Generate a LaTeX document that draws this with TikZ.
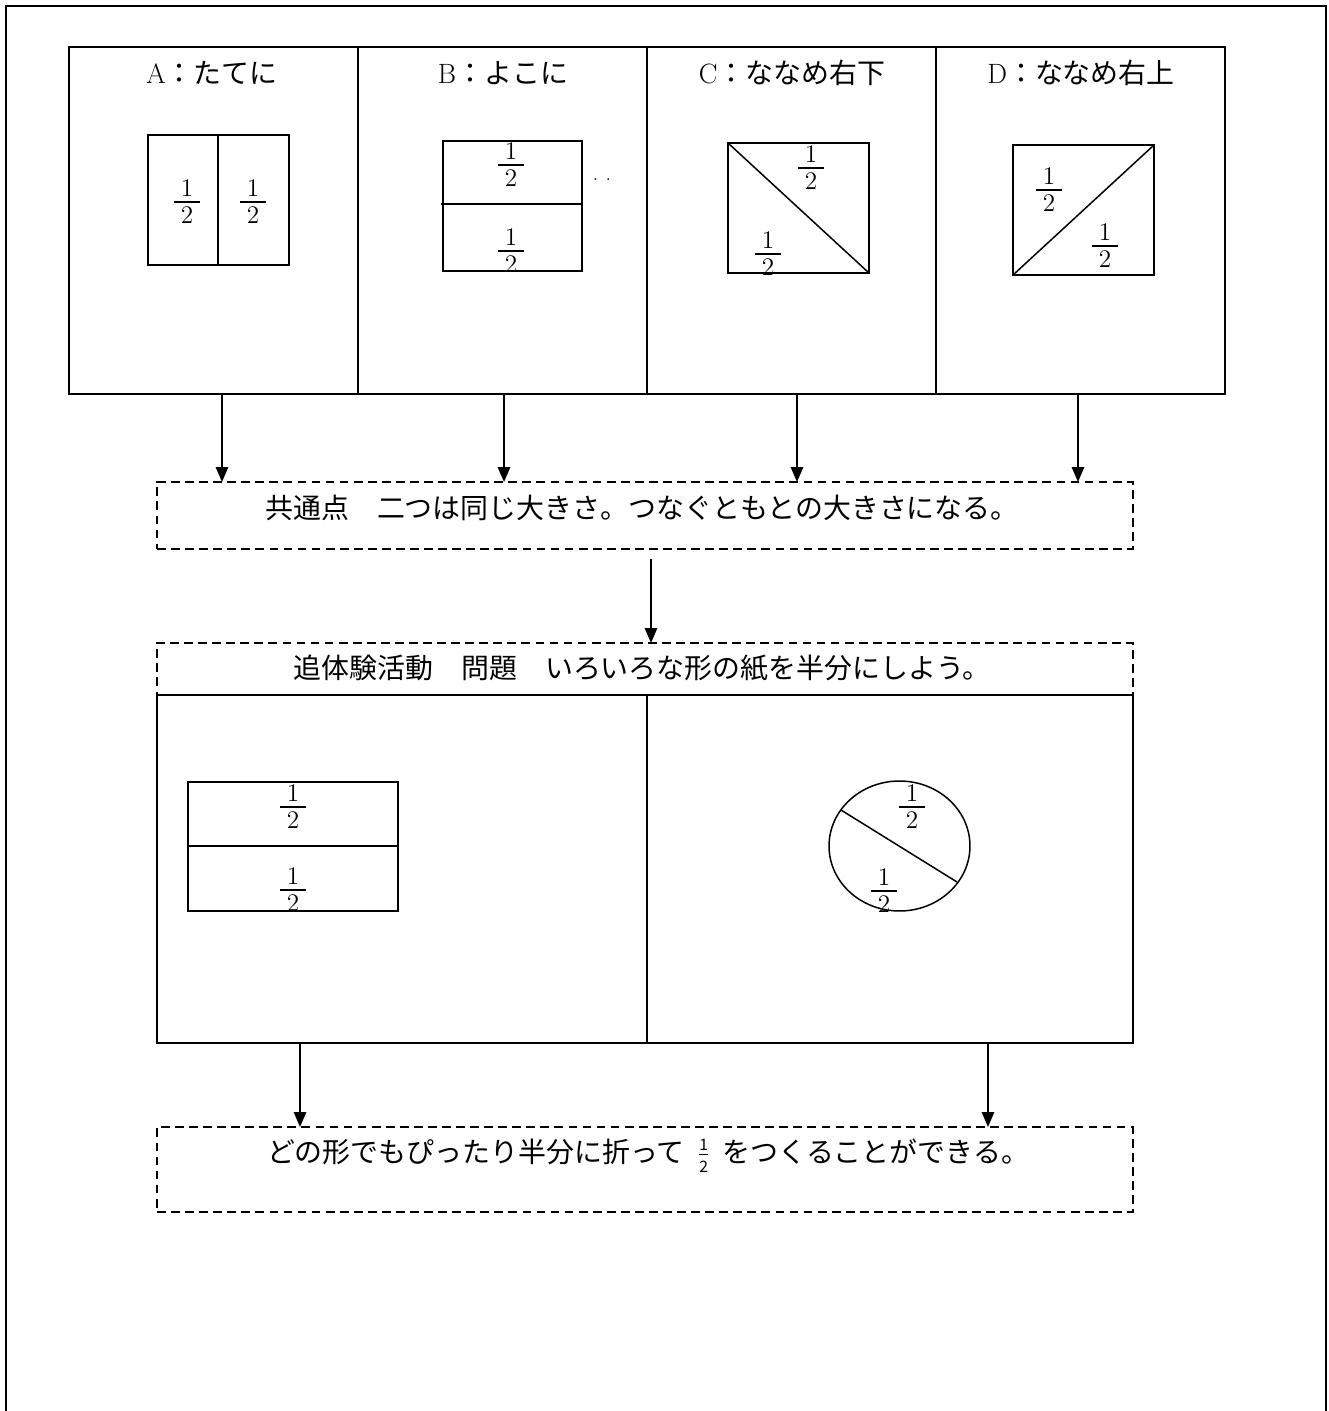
\documentclass[tikz,border=0pt]{standalone}
\usepackage{amsmath}
\usepackage{fontspec}
\newfontfamily\cjk{Noto Sans CJK JP}
\usetikzlibrary{arrows.meta}
\newcommand{\hfr}{{\fontsize{19.5}{23}\selectfont$\genfrac{}{}{0.9pt}{1}{\;1\;}{\;2\;}$}}
\newcommand{\sfr}{$\genfrac{}{}{0.7pt}{1}{\hbox{\cjk\fontsize{9}{10}\selectfont 1}}{\hbox{\cjk\fontsize{9}{10}\selectfont 2}}$}
\begin{document}
\begin{tikzpicture}[x=0.02cm,y=-0.02cm,
  panel/.style={draw,line width=1.1pt,inner sep=0,outer sep=0,minimum width=5.78cm,minimum height=6.94cm},
  dbox/.style={draw,dash pattern=on 5pt off 3pt,line width=0.9pt,inner sep=0,outer sep=0,minimum width=19.52cm},
  sbox/.style={draw,line width=1.1pt,inner sep=0,outer sep=0,minimum height=6.96cm},
  shp/.style={line width=0.85pt},
  arr/.style={-{Triangle[length=8.5pt,width=7pt]},line width=1.1pt},
  jp/.style={font=\cjk\fontsize{15.9}{19}\selectfont,inner sep=0,anchor=base},
  ttl/.style={font=\fontsize{15.9}{19}\selectfont,inner sep=0},
  frc/.style={inner sep=0}]
\useasboundingbox (0,0) rectangle (1329,1411);
% outer frame (open at the bottom)
\draw[line width=1pt] (6,1411) -- (6,6) -- (1326,6) -- (1326,1411);

% top panels
\node[panel] (pA) at (213.5,220.5) {};
\node[panel] (pB) at (502.5,220.5) {};
\node[panel] (pC) at (791.5,220.5) {};
\node[panel] (pD) at (1080.5,220.5) {};
\node[ttl] (tA) at (212,73) {A{\cjk ：たてに}};
\node[ttl] (tB) at (503,73) {B{\cjk ：よこに}};
\node[ttl] (tC) at (792,73) {C{\cjk ：ななめ右下}};
\node[ttl] (tD) at (1081,73) {D{\cjk ：ななめ右上}};

% A shape
\draw[shp] (148,135) rectangle (289,265);
\draw[shp] (218,135) -- (218,265);
\node[frc] (fA1) at (187,202) {\hfr};
\node[frc] (fA2) at (253,202) {\hfr};
% B shape
\draw[shp] (443,141) rectangle (582,271);
\draw[shp] (441,204) -- (582,204);
\node[frc] (fB1) at (511,165) {\hfr};
\node[frc] (fB2) at (511,251) {\hfr};
\node[inner sep=0,anchor=base,font=\fontsize{10}{12}\selectfont] (dots) at (602,180) {.\hspace{0.16cm}.};
% C shape
\draw[shp] (728,143) rectangle (869,273);
\draw[shp] (728,143) -- (869,273);
\node[frc] (fC1) at (811,168) {\hfr};
\node[frc] (fC2) at (768,254) {\hfr};
% D shape
\draw[shp] (1013,145) rectangle (1154,275);
\draw[shp] (1013,275) -- (1154,145);
\node[frc] (fD1) at (1049,190) {\hfr};
\node[frc] (fD2) at (1105,246) {\hfr};

% box 1
\node[dbox,minimum height=1.34cm] (b1) at (645,515.5) {};
\node[jp] (t1) at (642,518) {共通点　二つは同じ大きさ。つなぐともとの大きさになる。};

\draw[arr] ([xshift=0.17cm]pA.south) -- ([xshift=0.17cm]pA.south |- b1.north);
\draw[arr] ([xshift=0.03cm]pB.south) -- ([xshift=0.03cm]pB.south |- b1.north);
\draw[arr] ([xshift=0.11cm]pC.south) -- ([xshift=0.11cm]pC.south |- b1.north);
\draw[arr] ([xshift=-0.05cm]pD.south) -- ([xshift=-0.05cm]pD.south |- b1.north);

% box 2
\node[dbox,minimum height=1.04cm] (b2) at (645,669) {};
\node[jp] (t2) at (642,678) {追体験活動　問題　いろいろな形の紙を半分にしよう。};
\draw[arr] ([xshift=0.12cm,yshift=-0.2cm]b1.south) -- ([xshift=0.12cm]b1.south |- b2.north);

% solid boxes
\node[sbox,minimum width=9.8cm] (sL) at (402,869) {};
\node[sbox,minimum width=9.72cm] (sR) at (890,869) {};

% left shape
\draw[shp] (188,782) rectangle (398,911);
\draw[shp] (188,846) -- (398,846);
\node[frc] (fL1) at (293,807) {\hfr};
\node[frc] (fL2) at (293,890) {\hfr};
% circle shape
\draw[shp] (899.5,846) ellipse [x radius=1.41cm, y radius=1.3cm];
\draw[shp] (841,810) -- (957,882);
\node[frc] (fR1) at (912,807) {\hfr};
\node[frc] (fR2) at (884,891) {\hfr};

% box 3
\node[dbox,minimum height=1.7cm] (b3) at (645,1169.5) {};
\node[jp] (t3) at (648,1162) {どの形でもぴったり半分に折って\hspace{0.45em}\sfr\hspace{0.45em}をつくることができる。};
\draw[arr] ([xshift=-2.04cm]sL.south) -- ([xshift=-2.04cm]sL.south |- b3.north);
\draw[arr] ([xshift=1.96cm]sR.south) -- ([xshift=1.96cm]sR.south |- b3.north);
\end{tikzpicture}
\end{document}
